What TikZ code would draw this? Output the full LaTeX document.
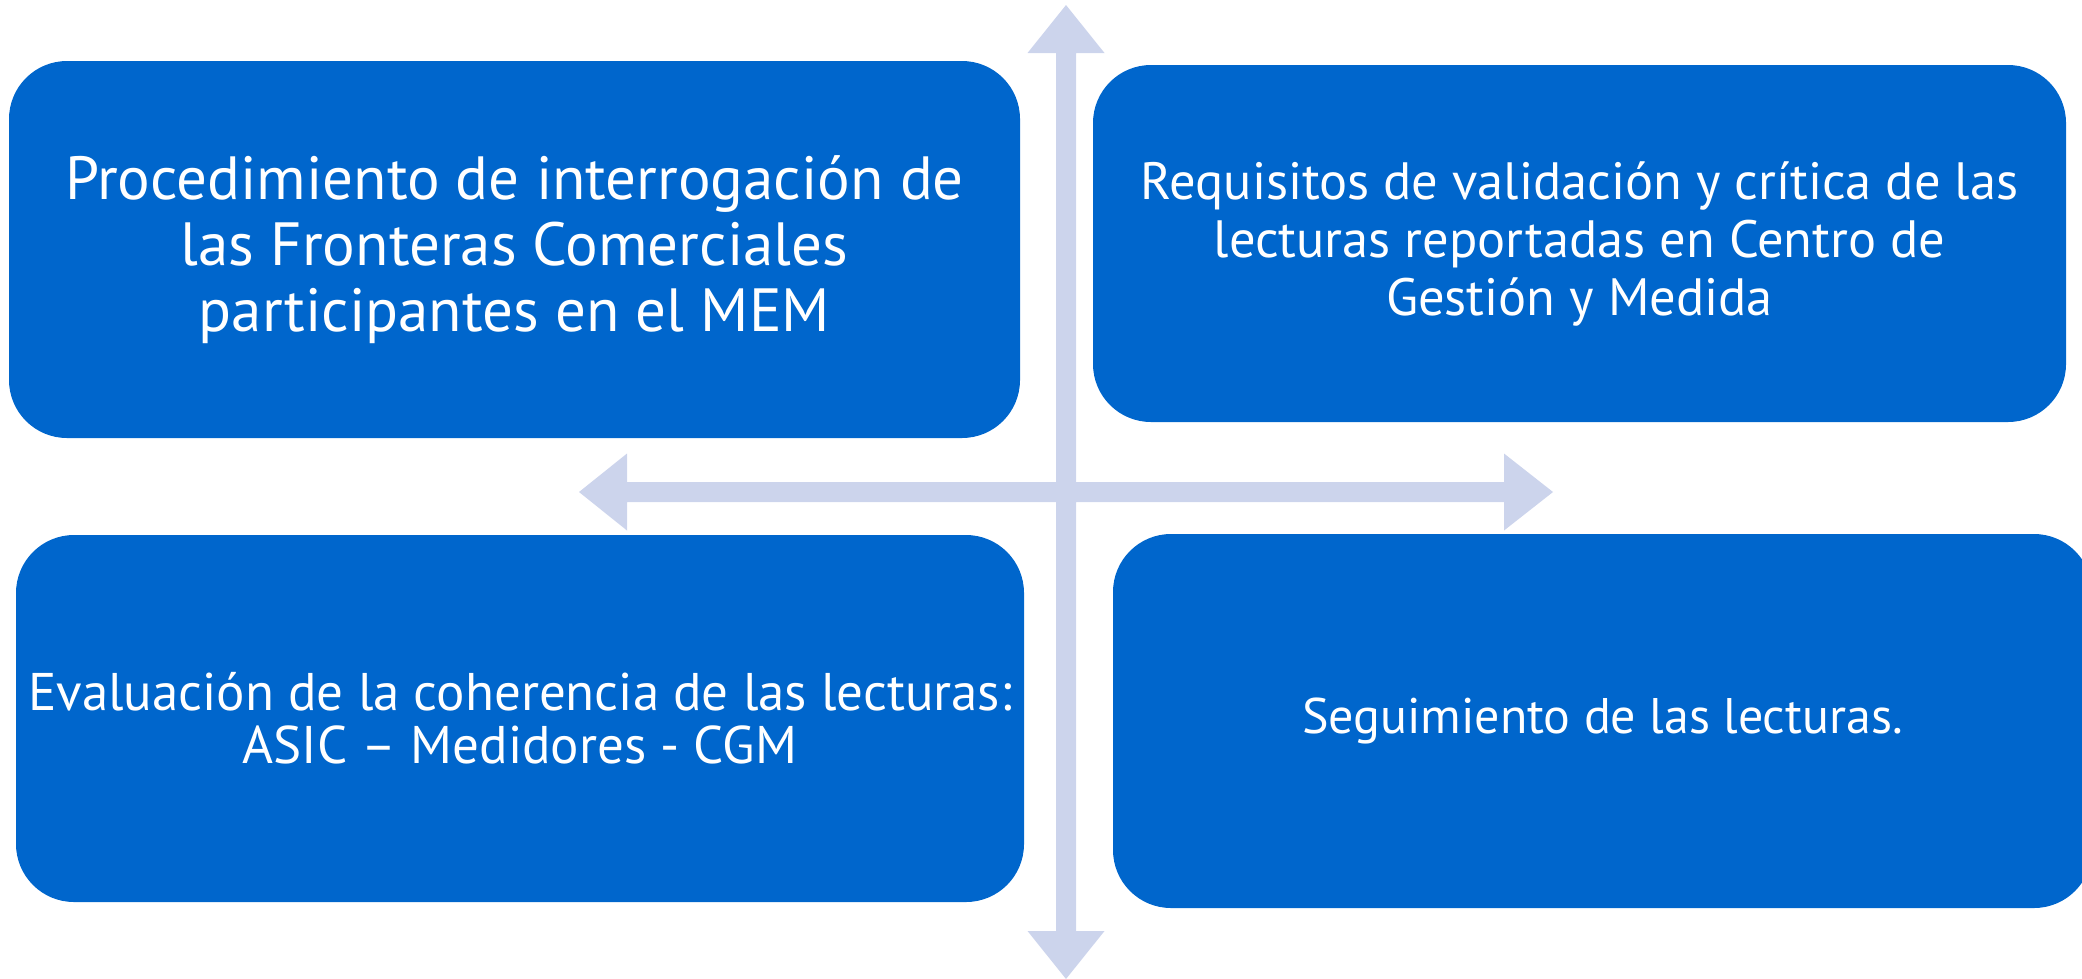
\documentclass[tikz,border=0pt]{standalone}
\usepackage{fontspec}
\setmainfont{PT Sans}
\definecolor{boxblue}{RGB}{0,102,204}
\definecolor{arrowlav}{RGB}{204,212,236}
\begin{document}
\begin{tikzpicture}[x=1pt,y=-1pt,
  quad/.style={fill=boxblue, draw=none, rounded corners=58pt, text=white, align=center, inner sep=0pt},
  axis/.style={fill=arrowlav, draw=none}]
\useasboundingbox (0,0) rectangle (2082,978);
\clip (0,0) rectangle (2082,978);
% arrows
\fill[axis] (1056,53) -- (1027.5,53) -- (1066,5) -- (1104.5,53) -- (1076,53) -- (1076,482)
  -- (1504,482) -- (1504,453.5) -- (1553,492) -- (1504,530.5) -- (1504,502) -- (1076,502)
  -- (1076,931) -- (1104.5,931) -- (1066,979) -- (1027.5,931) -- (1056,931) -- (1056,502)
  -- (627,502) -- (627,530.5) -- (579,492) -- (627,453.5) -- (627,482) -- (1056,482) -- cycle;
% boxes
\node[quad, minimum width=1011pt, minimum height=377pt, font=\fontsize{61}{66}\selectfont] (b1) at (514.5,249.5)
  {Procedimiento de interrogación de\\las Fronteras Comerciales\\participantes en el MEM};
\node[quad, minimum width=973pt, minimum height=357pt, font=\fontsize{52.5}{58}\selectfont] (b2) at (1579.5,243.5)
  {Requisitos de validación y crítica de las\\lecturas reportadas en Centro de\\Gestión y Medida};
\node[quad, minimum width=1008pt, minimum height=367pt, font=\fontsize{53}{53}\selectfont] (b3) at (520,718.5)
  {Evaluación de la coherencia de las lecturas:\\ASIC – Medidores - CGM};
\node[quad, minimum width=979pt, minimum height=374pt, font=\fontsize{50}{58}\selectfont] (b4) at (1602.5,721)
  {Seguimiento de las lecturas.};
\end{tikzpicture}
\end{document}
